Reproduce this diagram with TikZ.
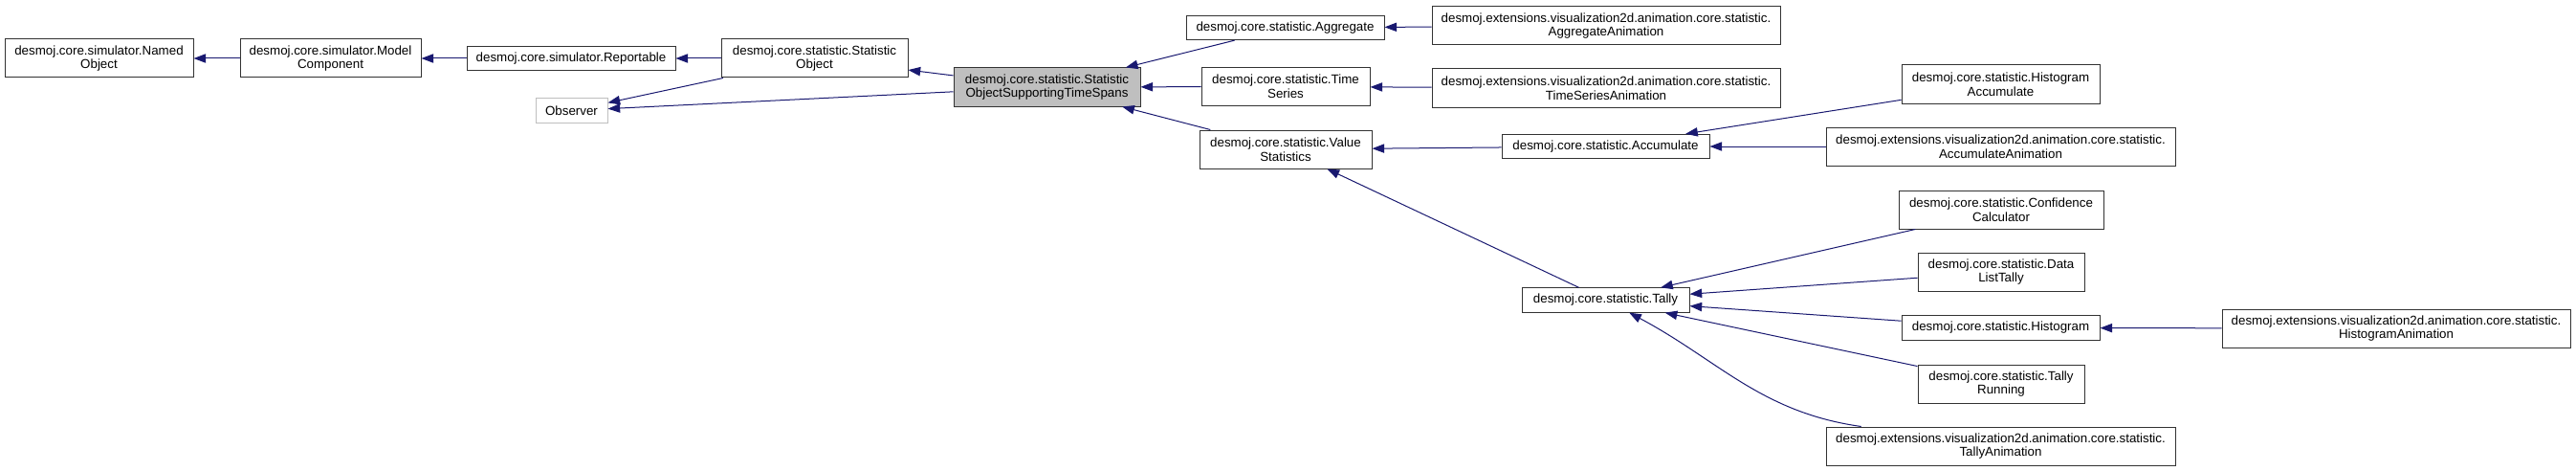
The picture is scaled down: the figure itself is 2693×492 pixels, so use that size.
\documentclass[tikz,border=0pt]{standalone}
\usepackage{fontspec}
\setmainfont{Liberation Sans}
\usetikzlibrary{arrows.meta}
\definecolor{edgeblue}{RGB}{25,25,112}
\definecolor{boxgrey}{RGB}{191,191,191}

\begin{document}
\begin{tikzpicture}[x=0.75pt, y=0.75pt,
  inh/.style={draw=edgeblue, line width=0.75pt, -{Triangle[length=9.5pt,width=7pt]}},
  short/.style={minimum height=19pt}]
\useasboundingbox (0,0) rectangle (2693,-492);
\begin{scope}[every node/.style={rectangle,draw=black!80,line width=0.75pt,inner sep=0pt,align=center,font=\fontsize{10}{11}\selectfont,minimum height=30pt}]
\node[minimum width=147.75pt] (namedobj) at (103.5,-61) {desmoj.core.simulator.Named\\Object};
\node[minimum width=141.75pt] (modelcomp) at (345.5,-61) {desmoj.core.simulator.Model\\Component};
\node[short,minimum width=163.5pt] (reportable) at (597,-61) {desmoj.core.simulator.Reportable};
\node[short,minimum width=56.25pt,draw=boxgrey] (observer) at (597.5,-115.5) {Observer};
\node[minimum width=146.25pt] (statobj) at (851.5,-61) {desmoj.core.statistic.Statistic\\Object};
\node[minimum width=146.25pt,fill=boxgrey] (sosts) at (1094.5,-91) {desmoj.core.statistic.Statistic\\ObjectSupportingTimeSpans};

\node[short,minimum width=155.25pt] (aggregate) at (1343.5,-29) {desmoj.core.statistic.Aggregate};
\node[minimum width=132pt] (timeseries) at (1344,-90.5) {desmoj.core.statistic.Time\\Series};
\node[minimum width=135pt] (valuestats) at (1344,-156) {desmoj.core.statistic.Value\\Statistics};

\node[minimum width=273pt] (agganim) at (1679,-27) {desmoj.extensions.visualization2d.animation.core.statistic.\\AggregateAnimation};
\node[minimum width=273pt] (tsanim) at (1679,-92) {desmoj.extensions.visualization2d.animation.core.statistic.\\TimeSeriesAnimation};
\node[short,minimum width=162.75pt] (accumulate) at (1678.5,-153) {desmoj.core.statistic.Accumulate};
\node[short,minimum width=131.25pt] (tally) at (1678.5,-313.5) {desmoj.core.statistic.Tally};

\node[minimum width=155.25pt] (histacc) at (2091.5,-88) {desmoj.core.statistic.Histogram\\Accumulate};
\node[minimum width=273.75pt] (accanim) at (2091.5,-153) {desmoj.extensions.visualization2d.animation.core.statistic.\\AccumulateAnimation};
\node[minimum width=160.5pt] (confcalc) at (2092,-219) {desmoj.core.statistic.Confidence\\Calculator};
\node[minimum width=130.5pt] (datalist) at (2092,-284) {desmoj.core.statistic.Data\\ListTally};
\node[short,minimum width=155.25pt] (histogram) at (2091.5,-342.5) {desmoj.core.statistic.Histogram};
\node[minimum width=130.5pt] (tallyrun) at (2092,-401) {desmoj.core.statistic.Tally\\Running};
\node[minimum width=273.75pt] (tallyanim) at (2091.5,-466) {desmoj.extensions.visualization2d.animation.core.statistic.\\TallyAnimation};

\node[minimum width=273pt] (histanim) at (2505,-343) {desmoj.extensions.visualization2d.animation.core.statistic.\\HistogramAnimation};
\end{scope}

% base classes
\draw[inh] (modelcomp) -- (namedobj);
\draw[inh] (reportable) -- (modelcomp);
\draw[inh] (statobj) -- (reportable);
\draw[inh] (statobj) -- (observer);
\draw[inh] (sosts) -- (statobj);
\draw[inh] (sosts) -- (observer);

\draw[inh] (aggregate) -- (sosts);
\draw[inh] (timeseries) -- (sosts);
\draw[inh] (valuestats) -- (sosts);

\draw[inh] (agganim) -- (aggregate);
\draw[inh] (tsanim) -- (timeseries);
\draw[inh] (accumulate) -- (valuestats);
\draw[inh] (tally) -- (valuestats);

\draw[inh] (histacc) -- (accumulate);
\draw[inh] (accanim) -- (accumulate);

\draw[inh] (confcalc) -- (tally);
\draw[inh] (datalist) -- (tally);
\draw[inh] (histogram) -- (tally);
\draw[inh] (tallyrun) -- (tally);
\draw[inh] (tallyanim) to[out=172,in=-28] (tally);

\draw[inh] (histanim) -- (histogram);
\end{tikzpicture}
\end{document}
